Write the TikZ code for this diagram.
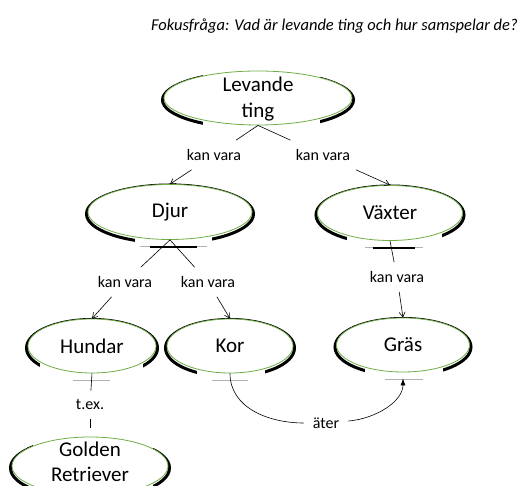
\documentclass[tikz,border=0pt]{standalone}
\usepackage{fontspec}
\setmainfont{Carlito}
\usetikzlibrary{shapes.geometric,arrows.meta,backgrounds}
\definecolor{nodegreen}{RGB}{112,173,71}
\begin{document}
\begin{tikzpicture}[x=1pt,y=1pt,
  concept/.style={ellipse, draw=nodegreen, line width=0.8pt, fill=white, inner sep=0pt},
  ctext/.style={font=\fontsize{21}{25.5}\selectfont, align=center, inner sep=0pt},
  linkword/.style={font=\fontsize{16}{19}\selectfont, inner xsep=9pt, inner ysep=9pt},
  conn/.style={draw=black, line width=0.6pt},
  openarr/.style={conn, -{Straight Barb[length=5pt,width=6pt]}},
  fillarr/.style={conn, -{Latex[length=7pt,width=5pt]}},
  shadowline/.style={draw=black, line width=3pt},
  bargray/.style={draw=gray!60, line width=0.8pt},
  barblack/.style={draw=black, line width=2pt},
  eraser/.style={fill=white},
]
\useasboundingbox (0,0) rectangle (523,486);

\node[font=\fontsize{16.5}{20}\selectfont\itshape, anchor=base east, inner sep=0pt] (title) at (518,455) {Fokusfråga: Vad är levande ting och hur samspelar de?};

% concepts
\node[concept, minimum width=188pt, minimum height=54pt, label={[ctext, yshift=-1pt]center:Levande\\ting}] (lev) at (258,388) {};
\node[concept, minimum width=164pt, minimum height=55pt, label={[ctext]center:Djur}] (djur) at (170,274) {};
\node[concept, minimum width=145pt, minimum height=55pt, label={[ctext]center:Växter}] (vax) at (390,273) {};
\node[concept, minimum width=128pt, minimum height=54pt, label={[ctext]center:Hundar}] (hund) at (92,140) {};
\node[concept, minimum width=126pt, minimum height=54pt, label={[ctext]center:Kor}] (kor) at (230,140) {};
\node[concept, minimum width=133pt, minimum height=54pt, label={[ctext]center:Gräs}] (gras) at (403,141) {};
\node[concept, minimum width=156pt, minimum height=58pt, label={[ctext, yshift=4pt]center:Golden\\Retriever}] (golden) at (90,20) {};

% shadows
\begin{pgfonlayer}{background}
\draw[shadowline] ([yshift=-2pt]lev.center) ellipse [x radius=95.5pt, y radius=28.5pt];
\draw[shadowline] ([yshift=-2pt]djur.center) ellipse [x radius=83.5pt, y radius=29pt];
\draw[shadowline] ([yshift=-2pt]vax.center) ellipse [x radius=74pt, y radius=29pt];
\draw[shadowline] ([yshift=-2pt]hund.center) ellipse [x radius=65.5pt, y radius=28.5pt];
\draw[shadowline] ([yshift=-2pt]kor.center) ellipse [x radius=64.5pt, y radius=28.5pt];
\draw[shadowline] ([yshift=-2pt]gras.center) ellipse [x radius=68pt, y radius=28.5pt];
\draw[shadowline] ([yshift=-2pt]golden.center) ellipse [x radius=79.5pt, y radius=30.5pt];
\fill[eraser] ([xshift=-55pt,yshift=4pt]lev.north) rectangle ([xshift=62pt,yshift=-7pt]lev.south);
\fill[eraser] ([xshift=-35pt]djur.center) rectangle ([xshift=42pt,yshift=-7pt]djur.south);
\fill[eraser] ([xshift=-43pt]vax.center) rectangle ([xshift=52pt,yshift=-7pt]vax.south);
\fill[eraser] ([xshift=-52pt]hund.center) rectangle ([xshift=51pt,yshift=-7pt]hund.south);
\fill[eraser] ([xshift=-33pt]kor.center) rectangle ([xshift=35pt,yshift=-7pt]kor.south);
\fill[eraser] ([xshift=-38pt]gras.center) rectangle ([xshift=40pt,yshift=-7pt]gras.south);
\fill[eraser] ([xshift=-57pt,yshift=4pt]golden.north) rectangle ([xshift=63pt,yshift=-7pt]golden.south);
\end{pgfonlayer}

% bars under concepts
\draw[bargray] ([xshift=-30pt,yshift=-7pt]djur.south) -- ([xshift=37pt,yshift=-7pt]djur.south);
\draw[barblack] ([xshift=-20pt,yshift=-7pt]djur.south) -- ([xshift=27pt,yshift=-7pt]djur.south);
\draw[bargray] ([xshift=-25pt,yshift=-7pt]vax.south) -- ([xshift=33pt,yshift=-7pt]vax.south);
\draw[barblack] ([xshift=-17pt,yshift=-7pt]vax.south) -- ([xshift=25pt,yshift=-7pt]vax.south);
\draw[bargray] ([xshift=-19pt,yshift=-7pt]hund.south) -- ([xshift=18pt,yshift=-7pt]hund.south);
\draw[bargray] ([xshift=-18pt,yshift=-7pt]kor.south) -- ([xshift=18pt,yshift=-7pt]kor.south);
\draw[bargray] ([xshift=-18pt,yshift=-7pt]gras.south) -- ([xshift=20pt,yshift=-7pt]gras.south);

% linking words
\node[linkword] (lab1) at (214,331) {kan vara};
\node[linkword] (lab2) at (323,331) {kan vara};
\node[linkword] (lab3) at (125,204) {kan vara};
\node[linkword] (lab4) at (208,204) {kan vara};
\node[linkword] (lab5) at (397,209) {kan vara};
\node[linkword] (tex) at (90,81) {t.ex.};
\node[linkword] (ater) at (326,63) {äter};

% connectors
\draw[conn] (lev.south) -- (lab1);
\draw[openarr] (lab1) -- (djur.north);
\draw[conn] (lev.south) -- (lab2);
\draw[openarr] (lab2) -- (vax.north);
\draw[conn] (djur.south) -- (lab3);
\draw[openarr] (lab3) -- (hund.north);
\draw[conn] (djur.south) -- (lab4);
\draw[openarr] (lab4) -- (kor.north);
\draw[conn] (vax.south) -- (lab5);
\draw[openarr] (lab5) -- (gras.north);
\draw[conn] (hund.south) -- (tex);
\draw[conn, shorten >=9pt] (tex) -- (golden.north);
\draw[conn] (kor.south) to[out=-90, in=180] (ater);
\draw[fillarr, shorten >=6pt] (ater) to[out=5, in=-90] (gras.south);
\end{tikzpicture}
\end{document}
